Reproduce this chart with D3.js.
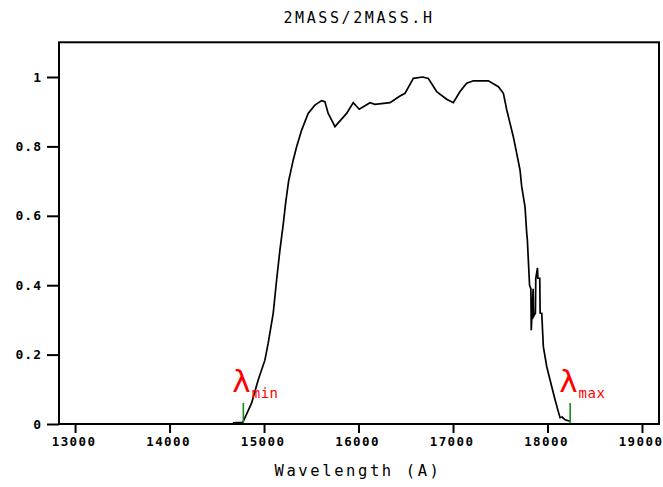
<!DOCTYPE html>
<html><head><meta charset="utf-8">
<script src="https://cdn.jsdelivr.net/npm/d3@7"></script>
<style>body{margin:0;background:#fff} svg{display:block}</style>
</head><body><svg id="c" width="663" height="487"></svg>
<script>
const title = "2MASS/2MASS.H";
const xLabel = "Wavelength (A)";
const wavelength = [14670,14776,14868,14938,15009,15044,15097,15133,15168,15203,15230,15260,15309,15345,15398,15467,15538,15609,15644,15679,15732,15750,15874,15944,16008,16121,16174,16333,16439,16492,16580,16679,16738,16827,16933,17003,17074,17145,17215,17374,17480,17533,17569,17603,17638,17674,17709,17727,17762,17780,17787,17797,17810,17824,17828,17848,17852,17872,17876,17894,17898,17918,17922,17939,17956,17992,18027,18080,18115,18133,18154,18186,18239];
const transmission = [0.003,0.005,0.060,0.127,0.184,0.233,0.319,0.415,0.501,0.575,0.640,0.700,0.761,0.799,0.847,0.895,0.919,0.932,0.929,0.895,0.867,0.857,0.895,0.926,0.907,0.926,0.921,0.926,0.945,0.953,0.996,1.0,0.996,0.958,0.936,0.926,0.958,0.982,0.989,0.989,0.972,0.953,0.905,0.867,0.828,0.780,0.732,0.684,0.626,0.550,0.530,0.473,0.400,0.390,0.270,0.390,0.310,0.320,0.420,0.450,0.420,0.420,0.320,0.319,0.223,0.165,0.127,0.070,0.035,0.018,0.020,0.012,0.008];
const xTicks = [13000,14000,15000,16000,17000,18000,19000];
const yTicks = [0,0.2,0.4,0.6,0.8,1];
const yTickLabels = ["0","0.2","0.4","0.6","0.8","1"];
const lambdaPoints = [14781, 18240];
const lambdaSubs = ["min", "max"];
const xDomain = [12830, 19180];
const yDomain = [0, 1.1];

const svg = d3.select("#c");
const L = 59, R = 659, T = 42.3, B = 424;
const x = d3.scaleLinear().domain(xDomain).range([L, R]);
const y = d3.scaleLinear().domain(yDomain).range([B, T]);
const mono = "'DejaVu Sans Mono', monospace";

svg.append("text").attr("x", 359).attr("y", 23).attr("text-anchor", "middle")
  .attr("font-family", mono).attr("font-size", 15).attr("letter-spacing", 2.6)
  .attr("fill", "#000").text(title);

const gy = svg.append("g").attr("transform", `translate(${L},0)`)
  .call(d3.axisLeft(y).tickValues(yTicks).tickSize(12).tickPadding(5)
    .tickFormat((d, i) => yTickLabels[i]));
gy.select(".domain").remove();
gy.selectAll("line").attr("stroke", "#000").attr("stroke-width", 2);
gy.selectAll("text").attr("font-family", mono).attr("font-size", 13).attr("font-weight", "bold")
  .attr("letter-spacing", 1).attr("fill", "#000");

const gx = svg.append("g").attr("transform", `translate(0,${B})`)
  .call(d3.axisBottom(x).tickValues(xTicks).tickSize(9).tickPadding(4).tickFormat(d3.format("d")));
gx.select(".domain").remove();
gx.selectAll("line").attr("stroke", "#000").attr("stroke-width", 2);
gx.selectAll("text").attr("font-family", mono).attr("font-size", 12.5).attr("font-weight", "bold")
  .attr("letter-spacing", 1.4).attr("dx", -1.5).attr("fill", "#000");

svg.append("rect").attr("x", L).attr("y", T).attr("width", R - L).attr("height", B - T)
  .attr("fill", "none").attr("stroke", "#000").attr("stroke-width", 2);

svg.append("text").attr("x", 358).attr("y", 476).attr("text-anchor", "middle")
  .attr("font-family", mono).attr("font-size", 15.5).attr("letter-spacing", 2.6)
  .attr("fill", "#000").text(xLabel);

const line = d3.line().x((d, i) => x(wavelength[i])).y(d => y(d));
svg.append("path").datum(transmission).attr("d", line)
  .attr("fill", "none").attr("stroke", "#000").attr("stroke-width", 1.7);

lambdaPoints.forEach((lp, i) => {
  const px = x(lp);
  svg.append("line").attr("x1", px).attr("x2", px).attr("y1", B - 21).attr("y2", B - 1)
    .attr("stroke", "#1a8a1a").attr("stroke-width", 1.6);
  const t = svg.append("text").attr("x", px - 11).attr("y", 392)
    .attr("font-family", "'DejaVu Sans', sans-serif").attr("fill", "#ff0000");
  t.append("tspan").attr("font-size", 31).text("λ");
  t.append("tspan").attr("font-size", 14).attr("font-family", mono).attr("dy", 6).attr("dx", 1)
    .attr("letter-spacing", 0.5).text(lambdaSubs[i]);
});
</script>
</body></html>
